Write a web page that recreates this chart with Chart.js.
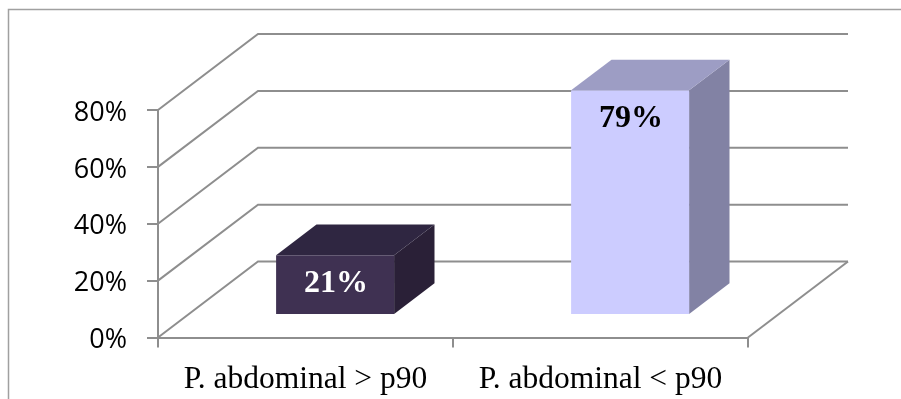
<!DOCTYPE html>
<html>
<head>
<meta charset="utf-8">
<script src="https://cdn.jsdelivr.net/npm/chart.js@4/dist/chart.umd.min.js"></script>
<style>
  html, body { margin: 0; padding: 0; background: #ffffff; }
  canvas { display: block; }
</style>
</head>
<body>
<canvas id="chart" width="901" height="399"></canvas>
<script>
// Data
const categories = ['P. abdominal > p90', 'P. abdominal < p90'];
const shares = [21, 79];
const axisTicks = [0, 20, 40, 60, 80];

// Face colours of each box (front, top, right side) and its value label
const frontFill = ['#3f3152', '#ccccff'];
const topFill = ['#2f2641', '#9d9dc4'];
const sideFill = ['#2a2037', '#8282a4'];
const labelInk = ['#ffffff', '#000000'];

// Oblique projection of the floor depth and where boxes sit inside it
const DEPTH = { dx: 100, dy: -76 };
const BOX_FRONT = 0.296;
const BOX_BACK = 0.70;
const LINE = '#8e8e8e';

function poly(ctx, pts) {
  ctx.beginPath();
  ctx.moveTo(pts[0][0], pts[0][1]);
  for (let i = 1; i < pts.length; i++) ctx.lineTo(pts[i][0], pts[i][1]);
  ctx.closePath();
  ctx.fill();
}

const box3d = {
  id: 'box3d',
  beforeDraw(chart) {
    const { ctx, width, height } = chart;
    ctx.save();
    ctx.fillStyle = '#ffffff';
    ctx.fillRect(0, 0, width, height);
    // outer frame of the chart object
    ctx.strokeStyle = '#a0a0a0';
    ctx.lineWidth = 1.5;
    ctx.beginPath();
    ctx.moveTo(8.5, height + 2);
    ctx.lineTo(8.5, 9.5);
    ctx.lineTo(width + 2, 9.5);
    ctx.stroke();
    ctx.restore();
  },
  beforeDatasetsDraw(chart) {
    const { ctx, scales: { x, y } } = chart;
    const L = x.left, R = x.right;
    ctx.save();
    // side wall and back wall gridlines
    ctx.strokeStyle = LINE;
    ctx.lineWidth = 2;
    axisTicks.forEach(v => {
      const py = y.getPixelForValue(v);
      ctx.beginPath();
      ctx.moveTo(L, py);
      ctx.lineTo(L + DEPTH.dx, py + DEPTH.dy);
      ctx.lineTo(R + DEPTH.dx, py + DEPTH.dy);
      ctx.stroke();
    });
    // right edge of the floor
    const p0 = y.getPixelForValue(0);
    ctx.beginPath();
    ctx.moveTo(R, p0);
    ctx.lineTo(R + DEPTH.dx, p0 + DEPTH.dy);
    ctx.stroke();

    // boxes
    const values = chart.data.datasets[0].data;
    const meta = chart.getDatasetMeta(0);
    const bx = DEPTH.dx * (BOX_BACK - BOX_FRONT);
    const by = DEPTH.dy * (BOX_BACK - BOX_FRONT);
    meta.data.forEach((bar, i) => {
      const w = bar.width;
      const left = bar.x - w / 2 + DEPTH.dx * BOX_FRONT;
      const right = left + w;
      const top = bar.y + DEPTH.dy * BOX_FRONT;
      const bottom = bar.base + DEPTH.dy * BOX_FRONT;

      ctx.fillStyle = sideFill[i];
      poly(ctx, [[right, top], [right + bx, top + by], [right + bx, bottom + by], [right, bottom]]);
      ctx.fillStyle = topFill[i];
      poly(ctx, [[left, top], [left + bx, top + by], [right + bx, top + by], [right, top]]);
      ctx.fillStyle = frontFill[i];
      ctx.fillRect(left, top, w, bottom - top);

      ctx.fillStyle = labelInk[i];
      ctx.font = 'bold 32px "Liberation Serif", "Times New Roman", serif';
      ctx.textAlign = 'center';
      ctx.textBaseline = 'middle';
      ctx.fillText(values[i] + '%', left + w / 2 + 1, top + 28);
    });
    ctx.restore();
    return false;
  }
};

new Chart(document.getElementById('chart'), {
  type: 'bar',
  data: {
    labels: categories,
    datasets: [{
      data: shares,
      backgroundColor: frontFill,
      categoryPercentage: 1,
      barPercentage: 0.4
    }]
  },
  options: {
    responsive: false,
    animation: false,
    devicePixelRatio: 1,
    layout: { padding: { top: 110, right: 153, left: 0, bottom: 0 } },
    plugins: { legend: { display: false }, tooltip: { enabled: false } },
    scales: {
      x: {
        offset: true,
        grid: { display: true, drawOnChartArea: false, offset: true, tickLength: 10, color: LINE, lineWidth: 2 },
        border: { display: true, color: LINE, width: 2 },
        ticks: {
          padding: 13,
          color: '#000000',
          maxRotation: 0,
          font: { family: '"Liberation Serif", "Times New Roman", serif', size: 31.5 }
        },
        afterFit(s) { s.height = 61.5; }
      },
      y: {
        min: 0,
        max: 80,
        afterBuildTicks(s) { s.ticks = axisTicks.map(v => ({ value: v })); },
        grid: { display: true, drawOnChartArea: false, tickLength: 11, color: LINE, lineWidth: 2 },
        border: { display: true, color: LINE, width: 2 },
        ticks: {
          padding: 20,
          labelOffset: 3,
          color: '#000000',
          font: { family: '"Open Sans"', size: 27 },
          callback: v => v + '%'
        },
        afterFit(s) { s.width = 158; }
      }
    }
  },
  plugins: [box3d]
});
</script>
</body>
</html>
